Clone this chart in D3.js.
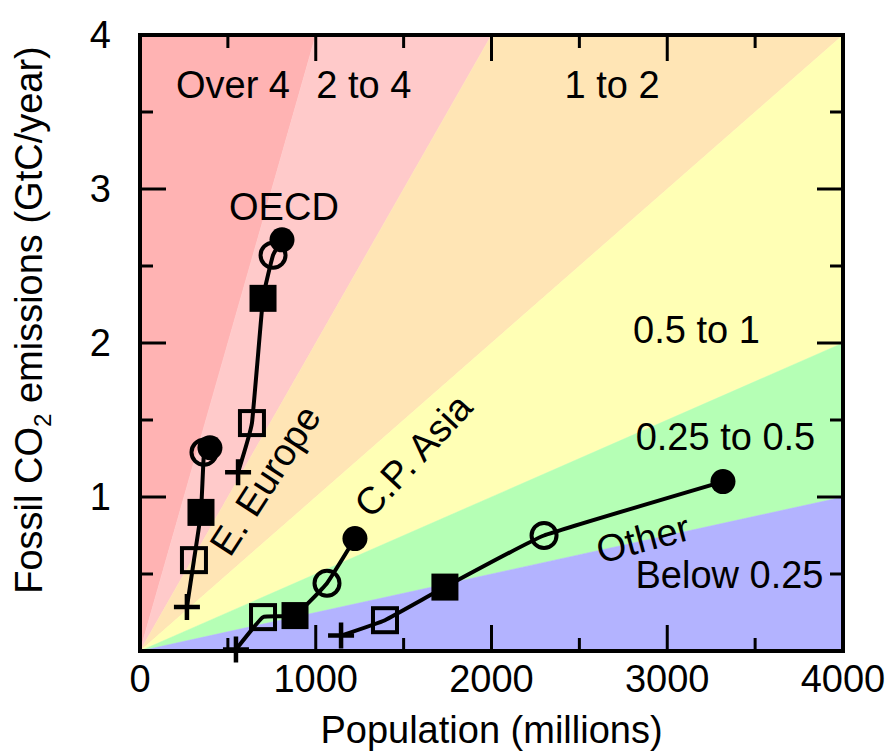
<!DOCTYPE html>
<html>
<head>
<meta charset="utf-8">
<script src="https://cdn.jsdelivr.net/npm/d3@7"></script>
<style>
  html, body { margin: 0; padding: 0; background: #fff; }
  svg { display: block; }
  text { font-family: "Liberation Sans", Arial, Helvetica, sans-serif; fill: #000; }
</style>
</head>
<body>
<svg id="chart" width="891" height="752"></svg>
<script>
// ---------------- data ----------------
const xTickValues = [0, 1000, 2000, 3000, 4000];
const xMinorValues = [500, 1500, 2500, 3500];
const yTickValues = [1, 2, 3, 4];
const yMinorValues = [0.5, 1.5, 2.5, 3.5];

// per-capita emission bands (tC/person): [lower, upper]
const bandNames  = ["Over 4", "2 to 4", "1 to 2", "0.5 to 1", "0.25 to 0.5", "Below 0.25"];
const bandLower  = [4, 2, 1, 0.5, 0.25, 0];
const bandUpper  = [Infinity, 4, 2, 1, 0.5, 0.25];
const bandColors = ["#ffb3b3", "#ffcaca", "#ffe5b5", "#ffffb5", "#b5ffb5", "#b3b3ff"];

// marker sequence (per point index)
const markerTypes = ["plus", "openSquare", "filledSquare", "openCircle", "filledCircle"];

// regions: population (millions), emissions (GtC/year)
const regionNames = ["OECD", "E. Europe", "C.P. Asia", "Other"];
const oecdPop   = [558, 637, 700, 757, 808];
const oecdCO2   = [1.16, 1.48, 2.29, 2.57, 2.67];
const eeuPop    = [267, 307, 347, 364, 398];
const eeuCO2    = [0.286, 0.59, 0.90, 1.29, 1.32];
const cpaPop    = [546, 700, 882, 1064, 1223];
const cpaCO2    = [0.01, 0.22, 0.23, 0.44, 0.73];
const otherPop  = [1144, 1394, 1735, 2299, 3317];
const otherCO2  = [0.10, 0.20, 0.415, 0.75, 1.10];

// ---------------- layout ----------------
const svg = d3.select("#chart");
const L = 140, R = 843, T = 35, B = 651;
const x = d3.scaleLinear().domain([0, 4000]).range([L, R]);
const y = d3.scaleLinear().domain([0, 4]).range([B, T]);
const FS = 38;

// ---------------- bands ----------------
const [x0, x1] = x.domain(), [y0, y1] = y.domain();
function rayEnd(rate) {
  if (!isFinite(rate)) return [x0, y1];
  const yy = rate * x1 / 1000;
  if (yy <= y1) return [x1, yy];
  return [y1 * 1000 / rate, y1];
}
const bands = bandNames.map((name, i) => {
  const hi = rayEnd(bandUpper[i]), lo = rayEnd(bandLower[i]);
  const pts = [[x0, y0], hi];
  if (hi[1] === y1 && hi[0] < x1 && lo[0] === x1 && lo[1] < y1) pts.push([x1, y1]);
  pts.push(lo);
  return { name, color: bandColors[i], pts };
});
svg.append("g").selectAll("polygon").data(bands).join("polygon")
  .attr("points", d => d.pts.map(p => [x(p[0]), y(p[1])].join(",")).join(" "))
  .attr("fill", d => d.color)
  .attr("stroke", d => d.color)
  .attr("stroke-width", 0.5);

// band labels (positions in data units)
const bandLabelX = [529, 1274, 2686, 3166, 3331, 3354];
const bandLabelY = [3.59, 3.59, 3.59, 2.0, 1.305, 0.409];
svg.append("g").selectAll("text").data(bandNames).join("text")
  .attr("x", (d, i) => x(bandLabelX[i]))
  .attr("y", (d, i) => y(bandLabelY[i]))
  .attr("text-anchor", "middle")
  .attr("font-size", FS)
  .text(d => d);

// ---------------- series ----------------
const series = [
  { name: regionNames[0], pop: oecdPop,  co2: oecdCO2 },
  { name: regionNames[1], pop: eeuPop,   co2: eeuCO2 },
  { name: regionNames[2], pop: cpaPop,   co2: cpaCO2 },
  { name: regionNames[3], pop: otherPop, co2: otherCO2 }
];
const line = d3.line().x(d => x(d[0])).y(d => y(d[1])).curve(d3.curveCardinal.tension(0.7));

const gS = svg.append("g");
series.forEach(s => {
  const pts = s.pop.map((p, i) => [p, s.co2[i]]);
  gS.append("path").attr("d", line(pts))
    .attr("fill", "none").attr("stroke", "#000").attr("stroke-width", 4);
  pts.forEach((p, i) => {
    const cx = x(p[0]), cy = y(p[1]);
    const t = markerTypes[i];
    if (t === "plus") {
      gS.append("path")
        .attr("d", `M${cx - 13},${cy}H${cx + 13}M${cx},${cy - 13}V${cy + 13}`)
        .attr("stroke", "#000").attr("stroke-width", 4.5).attr("fill", "none");
    } else if (t === "openSquare") {
      gS.append("rect").attr("x", cx - 12).attr("y", cy - 12).attr("width", 24).attr("height", 24)
        .attr("fill", "none").attr("stroke", "#000").attr("stroke-width", 4);
    } else if (t === "filledSquare") {
      gS.append("rect").attr("x", cx - 13.5).attr("y", cy - 13.5).attr("width", 27).attr("height", 27)
        .attr("fill", "#000");
    } else if (t === "openCircle") {
      gS.append("circle").attr("cx", cx).attr("cy", cy).attr("r", 12.5)
        .attr("fill", "none").attr("stroke", "#000").attr("stroke-width", 4);
    } else {
      gS.append("circle").attr("cx", cx).attr("cy", cy).attr("r", 12.5).attr("fill", "#000");
    }
  });
});

// region labels (data units + rotation)
const regionLabelX = [819, 711, 1553, 2862];
const regionLabelY = [2.80, 1.11, 1.27, 0.73];
const regionLabelAngle = [0, -57, -47, -15];
const regionLabelBaseline = [false, true, true, true];
svg.append("g").selectAll("text").data(regionNames).join("text")
  .attr("transform", (d, i) => `translate(${x(regionLabelX[i])},${y(regionLabelY[i])}) rotate(${regionLabelAngle[i]})`)
  .attr("dy", (d, i) => regionLabelBaseline[i] ? "0.35em" : 0)
  .attr("text-anchor", "middle")
  .attr("font-size", FS)
  .text(d => d);

// ---------------- axes ----------------
const gA = svg.append("g");
const MAJ = 26, MIN = 13;
function tickLines(vals, len) {
  vals.forEach(v => {
    gA.append("line").attr("x1", x(v)).attr("x2", x(v)).attr("y1", B).attr("y2", B - len)
      .attr("stroke", "#000").attr("stroke-width", 3);
    gA.append("line").attr("x1", x(v)).attr("x2", x(v)).attr("y1", T).attr("y2", T + len)
      .attr("stroke", "#000").attr("stroke-width", 3);
  });
}
function tickLinesY(vals, len) {
  vals.forEach(v => {
    gA.append("line").attr("y1", y(v)).attr("y2", y(v)).attr("x1", L).attr("x2", L + len)
      .attr("stroke", "#000").attr("stroke-width", 3);
    gA.append("line").attr("y1", y(v)).attr("y2", y(v)).attr("x1", R).attr("x2", R - len)
      .attr("stroke", "#000").attr("stroke-width", 3);
  });
}
tickLines(xTickValues, MAJ);
tickLines(xMinorValues, MIN);
tickLinesY(yTickValues, MAJ);
tickLinesY(yMinorValues, MIN);

gA.append("rect").attr("x", L).attr("y", T).attr("width", R - L).attr("height", B - T)
  .attr("fill", "none").attr("stroke", "#000").attr("stroke-width", 4);

// tick labels
svg.append("g").selectAll("text").data(xTickValues).join("text")
  .attr("x", d => x(d)).attr("y", B + 41)
  .attr("text-anchor", "middle").attr("font-size", FS)
  .text(d => d);
svg.append("g").selectAll("text").data(yTickValues).join("text")
  .attr("x", L - 29)
  .attr("y", d => Math.max(y(d), 21))
  .attr("dy", "0.35em")
  .attr("text-anchor", "end").attr("font-size", FS)
  .text(d => d);

// axis titles
svg.append("text").attr("x", (L + R) / 2).attr("y", 743)
  .attr("text-anchor", "middle").attr("font-size", FS)
  .text("Population (millions)");

const yt = svg.append("text")
  .attr("transform", `translate(42,320) rotate(-90)`)
  .attr("text-anchor", "middle").attr("font-size", FS);
yt.append("tspan").text("Fossil CO");
yt.append("tspan").attr("font-size", 24).attr("dy", 9).text("2");
yt.append("tspan").attr("dy", -9).text(" emissions (GtC/year)");
</script>
</body>
</html>
